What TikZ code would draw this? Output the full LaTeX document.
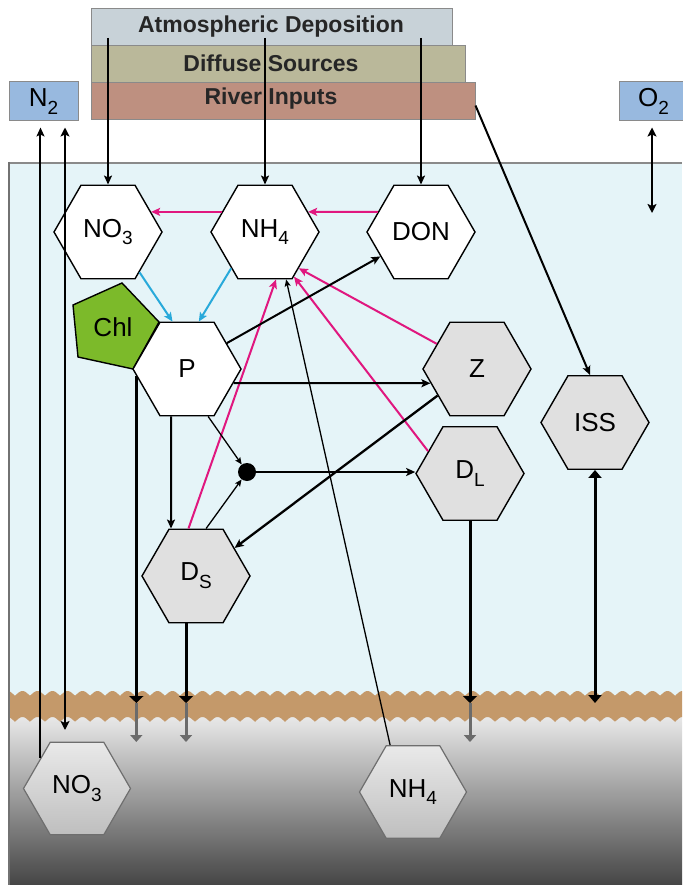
\documentclass[tikz,border=0pt]{standalone}
\usepackage{fontspec}
\setmainfont{Liberation Sans}
\usetikzlibrary{shapes.geometric,arrows.meta,calc}
\definecolor{watercol}{HTML}{E5F4F8}
\definecolor{bandcol}{HTML}{C4996A}
\definecolor{magcol}{HTML}{E0177F}
\definecolor{bluecol}{HTML}{28A9DA}
\definecolor{chlcol}{HTML}{7CBA2A}
\definecolor{hexgray}{HTML}{E0E0E0}
\definecolor{atmcol}{HTML}{C8D2D8}
\definecolor{diffcol}{HTML}{BAB89A}
\definecolor{rivcol}{HTML}{BE9080}
\definecolor{gascol}{HTML}{98B9DF}
\definecolor{boxline}{HTML}{8A8A8A}
\definecolor{sedtop}{HTML}{F4F4F4}
\definecolor{sedmid}{HTML}{A8A8A8}
\definecolor{sedbot}{HTML}{454545}
\definecolor{sinkgray}{HTML}{6B6B6B}
\definecolor{sedline}{HTML}{6E6E6E}
\newcommand\hexfont{\fontsize{26}{30}\selectfont}
\newcommand\titlefont{\bfseries\fontsize{23}{26}\selectfont}
\newcommand\lowsub[1]{\raisebox{-0.3em}{\fontsize{19}{22}\selectfont #1}}
\begin{document}
\begin{tikzpicture}[x=1pt,y=-1pt,
  hexw/.style={regular polygon, regular polygon sides=6, minimum size=108pt, inner sep=0pt,
    draw=black, line width=1.4pt, fill=white, font=\hexfont},
  hexg/.style={hexw, fill=hexgray},
  hexs/.style={regular polygon, regular polygon sides=6, minimum size=107pt, inner sep=0pt,
    draw=sedline, line width=1.2pt, top color=hexgray!70!white, bottom color=hexgray!85!black, font=\hexfont},
  srcbox/.style={draw=boxline, line width=1pt, inner sep=0pt, minimum height=37pt},
  gasbox/.style={draw=boxline, line width=1pt, fill=gascol, inner sep=0pt, minimum width=69pt, minimum height=39pt, font=\hexfont},
  flow/.style={line width=2pt, -{Stealth[length=9pt,width=8pt,inset=2pt]}},
  thinflow/.style={line width=1.3pt, -{Stealth[length=7pt,width=6pt,inset=1.5pt]}},
  magflow/.style={flow, draw=magcol, color=magcol},
  blueflow/.style={flow, draw=bluecol, color=bluecol},
  sink/.style={line width=3pt, -{Triangle[length=7pt,width=14pt]}},
  sinkg/.style={line width=3pt, draw=sinkgray, -{Triangle[length=7pt,width=12pt,color=sinkgray]}},
  twoway/.style={line width=2pt, {Stealth[length=9pt,width=9pt,inset=2pt]}-{Stealth[length=9pt,width=9pt,inset=2pt]}},
  twowayt/.style={line width=3pt, {Triangle[length=8pt,width=13pt]}-{Triangle[length=8pt,width=13pt]}}
]
\useasboundingbox (0,0) rectangle (682,885);
\fill[white] (0,0) rectangle (682,885);

% water and sediment
\fill[watercol] (8,163) rectangle (682,702);
\shade[top color=sedtop, middle color=sedmid, bottom color=sedbot] (8,705) rectangle (682,885);
\fill[bandcol] plot[domain=8:682,samples=500] (\x,{696-5*abs(sin(12*\x))})
  -- plot[domain=682:8,samples=500] (\x,{722-5*abs(sin(12*\x))}) -- cycle;
\draw[boxline, line width=2.5pt] (8,163) -- (682,163);
\draw[boxline!120, line width=2.5pt] (9,162) -- (9,885);

% source boxes
\node[srcbox, fill=atmcol, minimum width=361pt] (Atm) at (271.5,27.5) {};
\node[srcbox, fill=diffcol, minimum width=374pt] (Diff) at (278,64.5) {};
\node[srcbox, fill=rivcol, minimum width=384pt] (River) at (283,101.5) {};
\node[font=\titlefont, text=black!85] (tAtm) at (271,27) {Atmospheric Deposition};
\node[font=\titlefont, text=black!85] (tDiff) at (271,63) {Diffuse Sources};
\node[font=\titlefont, text=black!85] (tRiv) at (271,99) {River Inputs};

\node[gasbox] (N2) at (43.5,101.5) {N\lowsub{2}};
\node[gasbox] (O2) at (653.5,101.5) {O\lowsub{2}};

% Chl pentagon
\filldraw[fill=chlcol, draw=black, line width=1.4pt] (73,305) -- (122,283) -- (159,322) -- (133,369) -- (78,357) -- cycle;
\node[font=\hexfont] (Chl) at (113,327) {Chl};

% hexagons
\node[hexw] (NO3w) at (108,232) {NO\lowsub{3}};
\node[hexw] (NH4w) at (265,232) {NH\lowsub{4}};
\node[hexw] (DON) at (421,232) {DON};
\node[hexw] (P) at (187,369) {P};
\node[hexg] (Z) at (477,369) {Z};
\node[hexg] (DL) at (470,473.5) {D\lowsub{L}};
\node[hexg] (ISS) at (595,422.5) {ISS};
\node[hexg] (DS) at (196,576) {D\lowsub{S}};
\node[hexs] (sNO3) at (77,788.5) {NO\lowsub{3}};
\node[hexs] (sNH4) at (413,792) {NH\lowsub{4}};
\node[circle, fill=black, inner sep=0pt, minimum size=18pt] (dot) at (247,472) {};

% helper coordinates
\coordinate (atmy) at (0,38);
\coordinate (bandA) at (0,703);
\coordinate (bandB) at (0,742);
\coordinate (n2low) at (65,730);
\coordinate (o2low) at (652,213);
\coordinate (dsb) at ([xshift=-10pt]DS.south);

% external inputs
\draw[flow] (NO3w.north |- atmy) -- (NO3w.north);
\draw[flow] (NH4w.north |- atmy) -- (NH4w.north);
\draw[flow] (DON.north |- atmy) -- (DON.north);
\draw[flow] ([yshift=-4pt]River.east) -- (ISS.96);

% gas exchange
\draw[flow, shorten >=6pt] (sNO3.140) -- (sNO3.140 |- N2.south);
\draw[twoway, shorten <=6pt] (n2low |- N2.south) -- (n2low);
\draw[twoway, shorten <=6pt] (o2low |- O2.south) -- (o2low);

% uptake (blue)
\draw[blueflow] (NO3w.-52) -- (P.107);
\draw[blueflow] (NH4w.-133) -- (P.76);

% remineralisation / nitrification (magenta)
\draw[magflow] (NH4w.155) -- (NO3w.25);
\draw[magflow] (DON.155) -- (NH4w.25);
\draw[magflow] (Z.148) -- (NH4w.-47);
\draw[magflow] (DL.152) -- (NH4w.-57);
\draw[magflow] (DS.99) -- (NH4w.-77);
\draw[thinflow] (sNH4.116) -- (NH4w.-66);

% black fluxes
\draw[flow] (P.33) -- (DON.211);
\draw[flow] (P.-17) -- (Z.197);
\draw[thinflow] (P.-66) -- (dot);
\draw[thinflow] (DS.78) -- (dot);
\draw[flow] (dot) -- (dot -| DL.west);
\draw[flow] ([xshift=-16pt]P.south) -- ([xshift=-25pt]DS.north);
\draw[flow, line width=2.3pt] (Z.214) -- (DS.36);

% sinking to sediment
\draw[sinkg] (P.188 |- bandA) -- (P.188 |- bandB);
\draw[sinkg] (dsb |- bandA) -- (dsb |- bandB);
\draw[sinkg] (DL.south |- bandA) -- (DL.south |- bandB);
\draw[sink] (P.188) -- (P.188 |- bandA);
\draw[sink] (dsb) -- (dsb |- bandA);
\draw[sink] (DL.south) -- (DL.south |- bandA);
\draw[twowayt] (ISS.south) -- (ISS.south |- bandA);
\end{tikzpicture}
\end{document}
